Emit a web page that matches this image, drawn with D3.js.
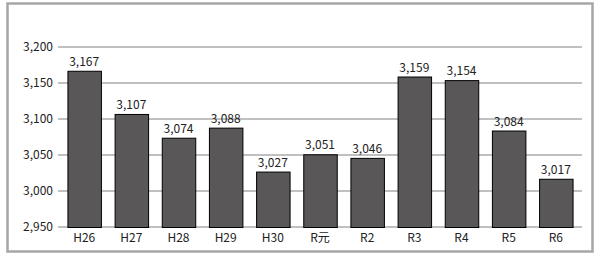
<!DOCTYPE html>
<html lang="ja">
<head>
    <meta charset="utf-8">
    <title>Bar chart</title>
    <script src="https://d3js.org/d3.v7.min.js"></script>
    <style>
        body { margin: 0; background: #fff; }
        text { font-family: "Noto Sans CJK JP", "DejaVu Sans", sans-serif; fill: #222; }
    </style>
</head>
<body>

<script>
    const years = ["H26", "H27", "H28", "H29", "H30", "R元", "R2", "R3", "R4", "R5", "R6"];
    const values = [3167, 3107, 3074, 3088, 3027, 3051, 3046, 3159, 3154, 3084, 3017];
    const ticks = [2950, 3000, 3050, 3100, 3150, 3200];

    const width = 604, height = 259;

    const svg = d3.select("body").append("svg")
            .attr("width", width)
            .attr("height", height);

    // outer frame
    svg.append("rect")
            .attr("x", 7.5).attr("y", 3.5)
            .attr("width", 585).attr("height", 248)
            .attr("fill", "none")
            .attr("stroke", "#a6a6a6")
            .attr("stroke-width", 2.5);

    const x = d3.scaleBand()
            .domain(years)
            .range([58, 582])
            .paddingInner(0.29)
            .paddingOuter(0.2);

    const y = d3.scaleLinear()
            .domain([2950, 3200])
            .range([227, 47]);

    const fmt = d3.format(",");

    // grid
    svg.append("g")
            .selectAll("line")
            .data(ticks).enter()
            .append("line")
            .attr("x1", 58).attr("x2", 582)
            .attr("y1", d => y(d)).attr("y2", d => y(d))
            .attr("stroke", "#c0c0c0")
            .attr("stroke-width", 2);

    svg.append("g")
            .selectAll("text")
            .data(ticks).enter()
            .append("text")
            .attr("x", 53)
            .attr("y", d => y(d))
            .attr("dy", "0.35em")
            .attr("text-anchor", "end")
            .style("font-size", "12px")
            .text(d => fmt(d));

    // bars
    svg.append("g")
            .selectAll("rect")
            .data(values).enter()
            .append("rect")
            .attr("x", (d, i) => x(years[i]) + 0.5)
            .attr("y", d => y(d) + 0.5)
            .attr("width", x.bandwidth())
            .attr("height", d => y(2950) - y(d))
            .attr("fill", "#595757")
            .attr("stroke", "#000")
            .attr("stroke-width", 1);

    svg.append("g")
            .selectAll("text")
            .data(values).enter()
            .append("text")
            .attr("x", (d, i) => x(years[i]) + x.bandwidth() / 2)
            .attr("y", d => y(d) - 5)
            .attr("text-anchor", "middle")
            .style("font-size", "12px")
            .text(d => fmt(d));

    // category labels
    svg.append("g")
            .selectAll("text")
            .data(years).enter()
            .append("text")
            .attr("x", d => x(d) + x.bandwidth() / 2)
            .attr("y", 242)
            .attr("text-anchor", "middle")
            .style("font-size", "12px")
            .text(d => d);
</script>

</body>
</html>
